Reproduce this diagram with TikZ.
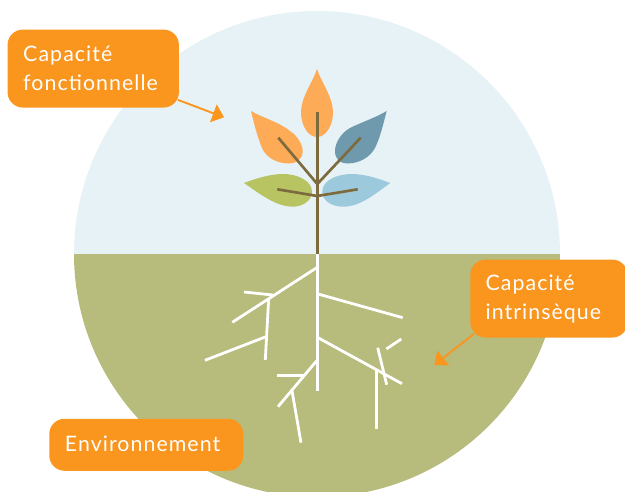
\documentclass[tikz,border=0pt]{standalone}
\usepackage{fontspec}
\setmainfont[LetterSpace=5]{Lato}
\usetikzlibrary{arrows.meta}
\definecolor{sky}{HTML}{E6F2F5}
\definecolor{ground}{HTML}{B7BB7B}
\definecolor{tag}{HTML}{FA951E}
\definecolor{stemc}{HTML}{7D6B3D}
\definecolor{leafo}{HTML}{FDAB57}
\definecolor{leafb}{HTML}{6F9AAE}
\definecolor{leafg}{HTML}{B8C462}
\definecolor{leafl}{HTML}{9CCADC}
\tikzset{
  tagbox/.style={fill=tag,rounded corners=11.5pt,text=white,font=\fontsize{16}{21.75}\selectfont,align=left,anchor=north west,inner xsep=11.5pt,inner ysep=0pt},
  pointer/.style={draw=tag,line width=1.4pt,-{Triangle[length=8.5pt,width=14pt]}},
  stemline/.style={draw=stemc,line width=2pt},
  rootline/.style={draw=white,line width=2.1pt}
}
\begin{document}
\begin{tikzpicture}[x=0.75pt,y=-0.75pt]
\clip (0,0) rectangle (625,492);
\begin{scope}
  \clip (0,0) rectangle (625,254);
  \fill[sky] (317,254) circle[radius=243];
\end{scope}
\begin{scope}
  \clip (0,254) rectangle (625,492);
  \fill[ground] (317,254) circle[radius=243];
\end{scope}
% leaves
\fill[leafo] (317,69) .. controls (313,82) and (301,97) .. (301,112) .. controls (301,127) and (309,137) .. (317,137) .. controls (325,137) and (333,127) .. (333,112) .. controls (333,97) and (321,82) .. (317,69) -- cycle;
\fill[leafo] (251,111) .. controls (263,118) and (279,122) .. (290,131) .. controls (298,136) and (303,146) .. (302.7,151) .. controls (302.5,160) and (296,163.5) .. (289,163.5) .. controls (276,163.5) and (266,157) .. (262,148) .. controls (258,138) and (255,128) .. (251,111) -- cycle;
\fill[leafb] (386.7,111) .. controls (375,118) and (362,122) .. (350,128) .. controls (341,133) and (335,143) .. (335,151) .. controls (335,159) and (340,163.5) .. (347,163.5) .. controls (360,163.5) and (370,157) .. (375,148) .. controls (380,138) and (383,125) .. (386.7,111) -- cycle;
\fill[leafg] (244,183) .. controls (256,178.5) and (270,174) .. (283,174) .. controls (298,174) and (312,181) .. (312,191.7) .. controls (312,201) and (302,206.7) .. (293,206.7) .. controls (276,206.7) and (260,194) .. (244,183) -- cycle;
\fill[leafl] (390.3,183) .. controls (378,178.5) and (365,174) .. (351.7,174) .. controls (336,174) and (322.3,181) .. (322.3,191.7) .. controls (322.3,201) and (332,206.7) .. (343.3,206.7) .. controls (360,206.7) and (375,194) .. (390.3,183) -- cycle;
% stem
\draw[stemline] (317.3,111.7) -- (317.3,254);
\draw[stemline] (278.3,137.7) -- (317.3,184) -- (360.7,137.7);
\draw[stemline] (277.3,189.3) -- (317.3,196) -- (357.7,189.3);
% roots
\draw[rootline] (317.3,254) -- (317.3,391);
\draw[rootline] (316.7,267.7) -- (232.3,322.3);
\draw[rootline] (272.7,295) -- (244,292);
\draw[rootline] (268.7,298.3) -- (265.3,360);
\draw[rootline] (266,336.7) -- (205,360.3);
\draw[rootline] (318,294) -- (402.7,317.7);
\draw[rootline] (318,337.7) -- (402,383.7);
\draw[rootline] (376.7,370) -- (376.7,429.3);
\draw[rootline] (377.7,347.7) -- (386.7,384.7);
\draw[rootline] (386.3,349) -- (401.3,339);
\draw[rootline] (316.7,360.7) -- (278,406.7);
\draw[rootline] (305,375.3) -- (277,375.3);
\draw[rootline] (292,390.7) -- (301,442.7);
% tags
\node[tagbox,minimum width=128.5pt,minimum height=58.5pt,text width=105pt] (fonct) at (7.3,29.3) {Capacité\\fonctionnelle};
\node[tagbox,minimum width=118pt,minimum height=58.5pt,text width=95pt] (intr) at (470,259.3) {Capacité\\intrinsèque};
\node[tagbox,minimum width=145.5pt,minimum height=39pt,text width=122pt] (env) at (49,418.5) {\raisebox{1pt}{Environnement}};
% pointers
\coordinate (fonctTip) at (224,117.3);
\coordinate (intrTip) at (434.3,365);
\draw[pointer] ([xshift=-1pt,yshift=6pt]fonct.south east) -- (fonctTip);
\draw[pointer] ([xshift=3pt,yshift=3pt]intr.south west) -- (intrTip);
\end{tikzpicture}
\end{document}
